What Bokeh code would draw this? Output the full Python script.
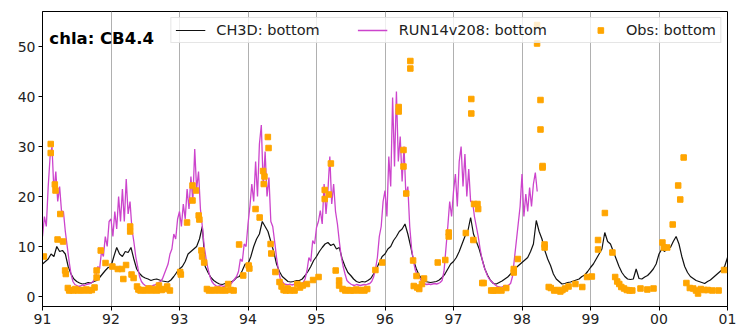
import numpy as np
from bokeh.plotting import figure
from bokeh.models import Range1d, FixedTicker, Legend, LegendItem, Label
from bokeh.embed import file_html
from bokeh.resources import INLINE

# Tick positions (start of each year) and their two-digit labels
years = [1991, 1992, 1993, 1994, 1995, 1996, 1997, 1998, 1999, 2000, 2001]
year_labels = ["91", "92", "93", "94", "95", "96", "97", "98", "99", "00", "01"]

# CH3D bottom chlorophyll-a, semi-monthly samples (24 per year)
ch3d_1991 = [6.5, 7.0, 7.5, 8.5, 8.0, 10.0, 9.0, 9.2, 8.5, 6.0, 4.5, 3.5, 3.0, 2.7, 2.5, 2.6, 2.8, 2.7, 3.0, 3.2, 3.8, 4.5, 5.2, 5.8]
ch3d_1992 = [6.0, 8.0, 9.8, 8.5, 8.0, 9.0, 8.8, 9.8, 7.5, 5.5, 4.6, 4.0, 3.7, 3.5, 3.2, 3.4, 3.5, 3.3, 3.1, 3.0, 2.9, 3.3, 4.0, 4.8]
ch3d_1993 = [5.5, 6.0, 7.0, 8.5, 9.0, 9.5, 10.0, 11.5, 14.0, 6.0, 4.8, 3.8, 3.2, 2.8, 2.5, 2.4, 2.6, 2.8, 2.9, 3.2, 3.8, 4.0, 5.2, 6.5]
ch3d_1994 = [6.5, 8.0, 10.0, 11.5, 12.5, 15.0, 14.0, 13.0, 11.0, 9.0, 6.5, 5.0, 4.0, 3.5, 3.0, 2.9, 3.0, 3.2, 3.2, 3.5, 4.2, 5.0, 6.0, 7.2]
ch3d_1995 = [8.0, 9.0, 9.8, 10.5, 10.8, 10.2, 10.5, 9.5, 9.8, 7.5, 6.0, 4.8, 4.2, 3.5, 3.0, 2.8, 3.0, 2.9, 3.2, 3.6, 4.5, 5.5, 6.8, 8.0]
ch3d_1996 = [8.5, 9.5, 10.0, 11.2, 12.0, 13.0, 13.5, 14.5, 12.5, 10.0, 7.2, 5.5, 4.2, 3.5, 3.0, 2.9, 2.8, 2.9, 3.0, 3.3, 3.8, 4.5, 5.5, 6.5]
ch3d_1997 = [7.0, 7.8, 9.0, 10.5, 12.0, 13.0, 15.8, 12.5, 11.0, 9.5, 7.5, 5.5, 4.2, 3.2, 2.6, 2.5, 2.8, 3.1, 3.5, 3.9, 4.5, 5.2, 5.8, 6.3]
ch3d_1998 = [6.8, 7.3, 7.8, 9.0, 10.5, 15.2, 13.0, 11.5, 9.2, 7.5, 6.2, 4.5, 3.5, 3.0, 2.5, 2.6, 2.8, 2.9, 3.1, 3.3, 3.5, 4.0, 4.3, 5.0]
ch3d_1999 = [5.8, 6.5, 7.5, 8.5, 9.5, 12.8, 11.0, 10.5, 9.0, 7.5, 6.0, 4.8, 4.0, 3.5, 3.4, 3.5, 5.5, 3.6, 3.5, 3.9, 4.2, 4.8, 5.5, 6.5]
ch3d_2000 = [8.5, 9.5, 9.0, 10.0, 9.8, 11.0, 12.0, 10.5, 8.0, 6.0, 4.8, 4.0, 3.6, 3.2, 3.0, 2.8, 2.6, 3.0, 3.3, 3.8, 4.3, 4.8, 5.3, 6.0]
ch3d_2001 = [7.8]

# RUN14v208 bottom chlorophyll-a, 10-day samples (36 per year), run ends early 1998
run_1991 = [12, 16, 14, 22, 28, 30, 21, 25, 19, 22, 17, 17, 13, 10, 7, 4.5, 3, 2.4, 2.2, 2.0, 2.1, 2.3, 2.2, 2.4, 2.5, 2.6, 2.8, 3.2, 4, 6, 5.5, 9, 8, 12, 10, 15]
run_1992 = [15.5, 12, 17, 13.5, 20, 15, 21.5, 15, 23.5, 16.5, 19, 13.5, 11, 8, 6, 4, 3, 2.5, 2.2, 2.0, 2.1, 2.0, 2.2, 2.3, 2.5, 2.8, 3.0, 3.5, 4.5, 5.5, 6.5, 8.5, 9.5, 12.5, 11.5, 15.5]
run_1993 = [17, 14, 18.5, 15.5, 21.5, 17.5, 24, 19, 29.5, 21.5, 25, 17.5, 14, 10, 7.5, 5.5, 4, 3, 2.5, 2.2, 2.0, 2.1, 2.2, 2.0, 2.1, 2.3, 2.2, 2.5, 3.0, 3.5, 4.0, 5.0, 7.5, 7.0, 10.5, 10.0]
run_1994 = [14.5, 18, 22.5, 19, 27, 20, 30.5, 34.3, 22, 29, 20, 23.8, 15, 14, 11, 7.8, 5.2, 3.5, 3.0, 2.5, 2.4, 2.3, 2.5, 2.3, 2.4, 2.6, 2.5, 2.4, 2.5, 2.8, 3.5, 5.2, 7.8, 7.0, 11.2, 10.5]
run_1995 = [13.8, 15, 17.2, 14.5, 22.5, 16.5, 21.2, 28, 18.5, 22.5, 17, 14.5, 11, 8, 6, 4.5, 3.2, 2.8, 2.5, 2.3, 2.2, 2.4, 2.3, 2.2, 2.3, 2.4, 2.3, 2.5, 2.6, 3.0, 3.9, 5.5, 7.8, 12, 14, 19]
run_1996 = [21.2, 16, 28, 22, 39.8, 26, 41, 27, 32, 23, 30, 20, 22, 14, 9.5, 7, 5.2, 4.2, 3.9, 3.2, 2.6, 2.5, 2.4, 2.5, 2.4, 2.5, 2.6, 2.5, 2.6, 2.8, 3.2, 5, 9.5, 14, 19, 16]
run_1997 = [21, 24.5, 18, 27, 30, 22, 28.5, 20, 25.5, 19, 19, 16, 14, 12, 9.5, 7.5, 6, 5, 4, 3.4, 3.0, 2.6, 2.3, 2.0, 1.9, 1.8, 2.0, 2.2, 2.1, 2.3, 2.6, 4, 7.5, 11, 14.5, 18]
run_1998 = [24.5, 16, 20.5, 17, 21.8, 18, 22.5, 24.8, 21]

# Observed bottom chlorophyll-a (decimal year, value)
obs_time = [
    1991.02, 1991.12, 1991.12, 1991.18, 1991.19, 1991.22, 1991.26, 1991.30, 1991.33, 1991.34,
    1991.37, 1991.39, 1991.42, 1991.45, 1991.48, 1991.52, 1991.56, 1991.60, 1991.64, 1991.68,
    1991.72, 1991.76, 1991.79, 1991.79, 1991.85, 1991.92,
    1992.02, 1992.10, 1992.16, 1992.22, 1992.18, 1992.28, 1992.28, 1992.30, 1992.33,
    1992.38, 1992.40, 1992.43, 1992.47, 1992.51, 1992.55, 1992.59, 1992.63, 1992.67, 1992.70,
    1992.74, 1992.78, 1992.82, 1992.86,
    1993.01, 1993.02, 1993.11, 1993.19, 1993.19, 1993.24, 1993.28, 1993.29, 1993.32, 1993.33,
    1993.36, 1993.40, 1993.43, 1993.47, 1993.51, 1993.55, 1993.59, 1993.63, 1993.67, 1993.71,
    1993.75, 1993.79, 1993.87, 1993.93, 1994.01, 1994.02,
    1994.11, 1994.17, 1994.22, 1994.23, 1994.24, 1994.29, 1994.30, 1994.33, 1994.34, 1994.40,
    1994.46, 1994.49, 1994.52, 1994.55, 1994.58, 1994.61, 1994.65, 1994.68, 1994.72, 1994.76,
    1994.80, 1994.86, 1994.95, 1995.03,
    1995.12, 1995.12, 1995.18, 1995.21, 1995.28, 1995.33, 1995.33, 1995.38, 1995.42, 1995.46,
    1995.50, 1995.54, 1995.58, 1995.62, 1995.66, 1995.70, 1995.74, 1995.86, 1995.96,
    1996.20, 1996.20, 1996.27, 1996.27, 1996.31, 1996.37, 1996.37, 1996.41, 1996.42, 1996.46,
    1996.47, 1996.50, 1996.54, 1996.57, 1996.77, 1996.88, 1996.93, 1996.93,
    1997.18, 1997.26, 1997.26, 1997.29, 1997.30, 1997.35, 1997.36, 1997.42, 1997.44,
    1997.55, 1997.58, 1997.62, 1997.66, 1997.70, 1997.77, 1997.88, 1997.88, 1997.94,
    1998.22, 1998.22, 1998.27, 1998.27, 1998.30, 1998.30, 1998.33, 1998.33, 1998.39, 1998.42,
    1998.47, 1998.51, 1998.56, 1998.59, 1998.63, 1998.68, 1998.78, 1998.88, 1998.95, 1999.02,
    1999.11, 1999.11, 1999.21, 1999.32, 1999.36, 1999.39, 1999.42, 1999.45, 1999.49, 1999.53,
    1999.57, 1999.61, 1999.73, 1999.83, 1999.92,
    2000.05, 2000.07, 2000.12, 2000.20, 2000.28, 2000.31, 2000.36, 2000.40, 2000.45, 2000.50,
    2000.54, 2000.57, 2000.61, 2000.66, 2000.71, 2000.78, 2000.87, 2000.95,
]
obs_value = [
    8.0, 30.5, 28.7, 22.4, 21.2, 11.4, 16.5, 11.0, 5.2, 4.5,
    1.7, 1.2, 1.3, 1.2, 1.5, 1.2, 1.3, 1.2, 1.4, 1.2,
    1.3, 1.8, 5.2, 3.8, 9.2, 6.7,
    6.0, 5.5, 5.5, 6.3, 3.5, 14.0, 13.0, 4.4, 3.7,
    2.0, 1.4, 1.2, 1.3, 1.2, 1.6, 1.2, 1.5, 1.2, 2.2,
    1.3, 1.5, 2.0, 1.2,
    4.9, 4.4, 14.8, 22.2, 19.2, 21.2, 16.2, 15.4, 9.2, 8.0,
    6.8, 1.5, 1.2, 1.3, 1.2, 1.4, 1.2, 1.3, 1.2, 2.5,
    1.3, 1.2, 10.4, 4.2, 6.2, 5.6,
    17.5, 15.8, 25.1, 22.5, 24.0, 31.9, 29.7, 10.5, 8.6, 4.9,
    2.9, 2.0, 1.3, 1.2, 1.6, 1.2, 1.3, 1.2, 2.5, 1.8,
    2.2, 2.5, 3.3, 3.9,
    21.3, 19.5, 20.4, 26.6, 5.2, 3.2, 2.2, 1.5, 1.2, 1.3,
    1.2, 1.2, 1.4, 1.2, 1.3, 1.2, 1.5, 5.3, 6.8,
    37.9, 37.0, 29.3, 26.0, 20.6, 47.1, 45.6, 7.2, 2.1, 4.1,
    1.8, 1.5, 2.5, 3.6, 6.8, 7.3, 12.8, 12.0,
    12.7, 39.5, 36.6, 11.3, 18.5, 18.5, 17.5, 2.7, 2.7,
    1.2, 1.2, 1.2, 1.3, 1.2, 1.7, 5.5, 4.8, 7.5,
    54.3, 50.6, 39.3, 33.4, 26.1, 25.8, 10.4, 9.8, 1.9, 1.7,
    1.2, 1.3, 1.0, 1.3, 1.6, 2.0, 2.5, 1.9, 3.9, 4.0,
    11.3, 9.4, 16.7, 8.8, 3.9, 3.0, 2.5, 1.9, 1.6, 1.3,
    1.2, 1.2, 1.6, 1.4, 1.6,
    10.8, 9.8, 9.8, 14.4, 22.2, 19.4, 27.8, 2.7, 1.7, 1.6,
    1.2, 0.6, 1.5, 1.3, 1.3, 1.2, 1.2, 5.3,
]

ch3d = (ch3d_1991 + ch3d_1992 + ch3d_1993 + ch3d_1994 + ch3d_1995 + ch3d_1996
        + ch3d_1997 + ch3d_1998 + ch3d_1999 + ch3d_2000 + ch3d_2001)
run14 = run_1991 + run_1992 + run_1993 + run_1994 + run_1995 + run_1996 + run_1997 + run_1998

t_ch3d = 1991 + np.arange(len(ch3d)) / 24.0
t_run14 = 1991 + np.arange(len(run14)) / 36.0

FONT = "DejaVu Sans"

p = figure(
    width=736, height=330,
    output_backend="svg", toolbar_location=None,
    x_range=Range1d(1991, 2001), y_range=Range1d(-2, 57),
    min_border_left=42, min_border_right=9, min_border_top=11, min_border_bottom=24,
)
p.background_fill_color = "white"
p.border_fill_color = "white"
p.outline_line_color = "black"
p.outline_line_width = 1

# vertical year grid only
p.xgrid.ticker = FixedTicker(ticks=years)
p.xgrid.grid_line_color = "#b0b0b0"
p.xgrid.grid_line_width = 1
p.ygrid.grid_line_color = None

p.xaxis.ticker = FixedTicker(ticks=years)
p.xaxis.major_label_overrides = {y: lbl for y, lbl in zip(years, year_labels)}
p.yaxis.ticker = FixedTicker(ticks=[0, 10, 20, 30, 40, 50])
for ax in (p.xaxis, p.yaxis):
    ax.axis_line_color = "black"
    ax.major_tick_line_color = "black"
    ax.major_tick_out = 4
    ax.major_tick_in = 0
    ax.minor_tick_line_color = None
    ax.major_label_text_font = FONT
    ax.major_label_text_font_size = "14px"
    ax.major_label_text_color = "#222222"
    ax.major_label_standoff = 3

r_ch3d = p.line(t_ch3d, ch3d, line_color="#111111", line_width=1.2)
r_run = p.line(t_run14, run14, line_color="#cc44cc", line_width=1.3)
r_obs = p.scatter(obs_time, obs_value, marker="square", size=5.5,
                  fill_color="#ffa500", line_color="#ffa500")

p.add_layout(Label(x=1991.1, y=51.6, text="chla: CB4.4", text_font=FONT,
                   text_font_size="16.5px", text_font_style="bold",
                   text_color="black", text_baseline="alphabetic"))

legend = Legend(
    items=[
        LegendItem(label="CH3D: bottom", renderers=[r_ch3d]),
        LegendItem(label="RUN14v208: bottom", renderers=[r_run]),
        LegendItem(label="Obs: bottom", renderers=[r_obs]),
    ],
    orientation="horizontal", location="top_right",
    margin=6, padding=4, spacing=38,
    glyph_width=30, glyph_height=14, label_height=14, label_standoff=11,
    label_text_font=FONT, label_text_font_size="14.5px", label_text_color="#222222",
    border_line_color="#cccccc", border_line_width=1,
    background_fill_color="white", background_fill_alpha=0.8,
)
p.add_layout(legend)

open("out.html", "w").write(file_html(p, INLINE))
